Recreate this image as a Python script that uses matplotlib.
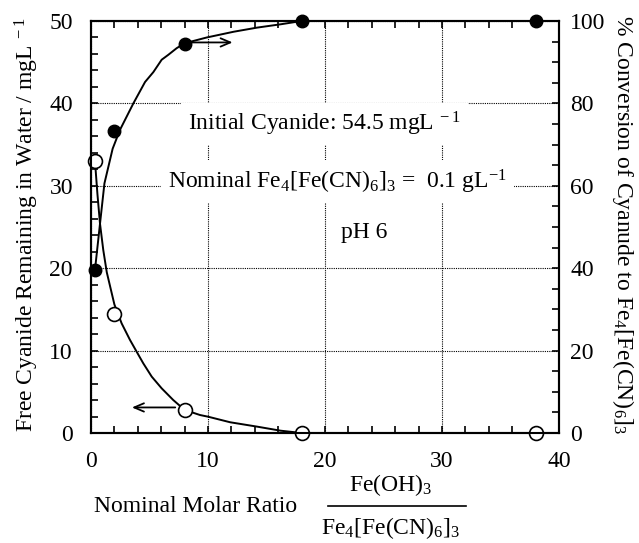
import matplotlib
matplotlib.use('Agg')
import matplotlib.pyplot as plt
from matplotlib.lines import Line2D
from matplotlib.ticker import MultipleLocator

plt.rcParams['font.family'] = 'serif'
plt.rcParams['font.serif'] = ['Liberation Serif', 'DejaVu Serif']
plt.rcParams['mathtext.fontset'] = 'custom'
plt.rcParams['mathtext.rm'] = 'Liberation Serif'
plt.rcParams['mathtext.it'] = 'Liberation Serif:italic'
plt.rcParams['mathtext.bf'] = 'Liberation Serif:bold'

# measured points
molar_ratio = [0.34, 2.0, 8.0, 18.0, 38.0]
free_cyanide = [33.0, 14.5, 2.8, 0.0, 0.0]       # mg/L  (open circles, left axis)
conversion = [39.6, 73.2, 94.4, 100.0, 100.0]    # %     (filled circles, right axis)

# fitted curves
fit_cn_x = [0.34, 0.55, 0.77, 1.05, 1.35, 1.7, 2.0, 2.62, 3.33, 3.9, 4.47, 5.19,
            6.04, 7.03, 8.0, 9.32, 10.0, 11.9, 14.2, 16.2, 18.0]
fit_cn_y = [33.0, 29.0, 25.4, 22.2, 19.5, 17.4, 15.6, 13.3, 11.3, 9.87, 8.45, 6.84,
            5.42, 4.0, 2.8, 2.18, 1.98, 1.3, 0.77, 0.28, 0.0]
fit_conv_x = [0.34, 0.77, 1.15, 1.85, 2.48, 3.05, 3.62, 4.62, 5.33, 6.04, 6.61,
              7.32, 8.0, 9.89, 12.2, 14.2, 16.2, 18.0]
fit_conv_y = [39.6, 50.8, 60.6, 69.0, 73.6, 76.8, 80.0, 85.2, 87.6, 90.6, 91.8,
              93.4, 94.6, 96.0, 97.4, 98.4, 99.2, 100.0]

FS = 17

fig = plt.figure(figsize=(6.39, 5.43), dpi=100)
ax = fig.add_axes([0.1424, 0.2026, 0.7324, 0.7587])
ax2 = ax.twinx()

ax.set_xlim(0, 40)
ax.set_ylim(0, 50)
ax2.set_ylim(0, 100)

ax.grid(True, which='major', linestyle=(0, (1, 1)), color='black', lw=0.8)

ax.plot(fit_cn_x, fit_cn_y, color='black', lw=1.4, zorder=4, solid_joinstyle='round')
ax.plot(molar_ratio, free_cyanide, 'o', ms=10, mfc='white', mec='black', mew=1.2,
        zorder=5, clip_on=False)
ax2.plot(fit_conv_x, fit_conv_y, color='black', lw=1.4, zorder=4, solid_joinstyle='round')
ax2.plot(molar_ratio, conversion, 'o', ms=9, mfc='black', mec='black',
         zorder=5, clip_on=False)

# arrows pointing to the axis each series belongs to
arrow = dict(arrowstyle='->,head_length=0.7,head_width=0.3', lw=1.3, color='black',
             shrinkA=0, shrinkB=0)
ax.annotate('', xy=(12.1, 47.4), xytext=(8.5, 47.4), arrowprops=arrow)
ax.annotate('', xy=(3.5, 3.1), xytext=(7.2, 3.1), arrowprops=arrow)

box = dict(boxstyle='square,pad=0.3', fc='white', ec='none')
ax.text(8.3, 36.7, r'Initial Cyanide: 54.5 mgL$^{\ -1}$', fontsize=FS,
        ha='left', va='baseline', bbox=box)
ax.text(6.6, 29.7, r'Nominal Fe$_{4}$[Fe(CN)$_{6}$]$_{3}$ =  0.1 gL$^{-1}$', fontsize=FS,
        ha='left', va='baseline', bbox=box)
ax.text(21.4, 23.7, 'pH 6', fontsize=FS, ha='left', va='baseline')

# ticks
ax.xaxis.set_major_locator(MultipleLocator(10))
ax.xaxis.set_minor_locator(MultipleLocator(2))
ax.yaxis.set_major_locator(MultipleLocator(10))
ax.yaxis.set_minor_locator(MultipleLocator(2))
ax2.yaxis.set_major_locator(MultipleLocator(20))
ax2.yaxis.set_minor_locator(MultipleLocator(5))

ax.tick_params(which='both', direction='in', top=True, right=False,
               length=5, width=1.2, labelsize=FS)
ax.tick_params(axis='x', pad=13)
ax.tick_params(axis='y', pad=13)
ax2.tick_params(which='both', direction='in', length=5, width=1.2,
                labelsize=FS, pad=8)

for sp in ax.spines.values():
    sp.set_linewidth(1.5)
for sp in ax2.spines.values():
    sp.set_linewidth(1.5)

# axis titles
ax.text(-0.137, 0.505, r'Free Cyanide Remaining in Water / mgL$^{\ -1}$',
        transform=ax.transAxes, rotation=90, ha='center', va='center', fontsize=FS)
ax.text(1.137, 0.505, r'% Conversion of Cyanude to Fe$_{4}$[Fe(CN)$_{6}$]$_{3}$',
        transform=ax.transAxes, rotation=-90, ha='center', va='center', fontsize=FS)

fig.text(196 / 639, 1 - 507 / 543, 'Nominal Molar Ratio', ha='center', va='center', fontsize=FS)
fig.text(391 / 639, 1 - 485 / 543, r'Fe(OH)$_{3}$', ha='center', va='center', fontsize=FS)
fig.text(391 / 639, 1 - 528 / 543, r'Fe$_{4}$[Fe(CN)$_{6}$]$_{3}$', ha='center', va='center',
         fontsize=FS)
fig.add_artist(Line2D([328 / 639, 466 / 639], [1 - 506 / 543, 1 - 506 / 543],
                      transform=fig.transFigure, color='black', lw=1.2))

fig.savefig('out.png', dpi=100)
